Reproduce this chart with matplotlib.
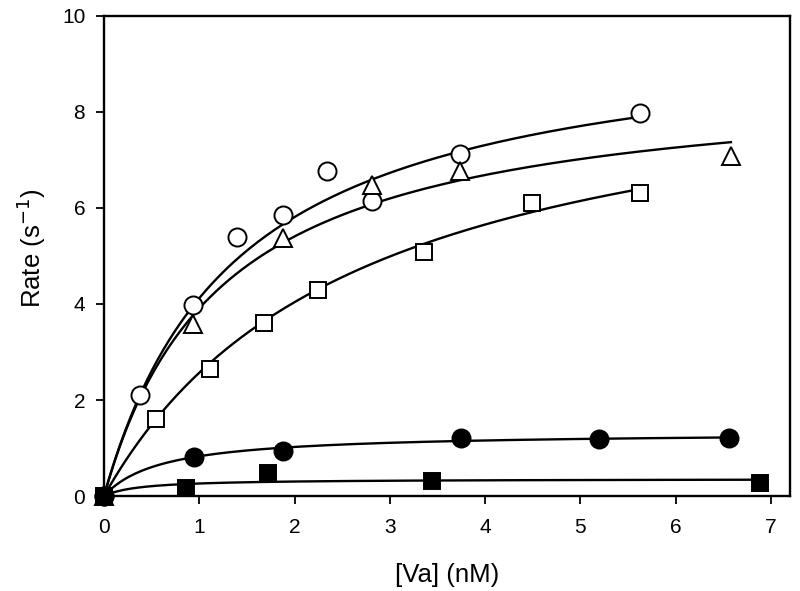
import numpy as np
import matplotlib.pyplot as plt

plt.rcParams['font.family'] = ['Liberation Sans', 'DejaVu Sans']

# open circles
x_oc = [0, 0.377, 0.933, 1.40, 1.88, 2.34, 2.81, 3.74, 5.63]
y_oc = [0, 2.10, 3.98, 5.40, 5.85, 6.77, 6.15, 7.12, 7.98]
# open triangles
x_tr = [0, 0.93, 1.88, 2.81, 3.74, 6.58]
y_tr = [0, 3.58, 5.38, 6.48, 6.78, 7.08]
# open squares
x_sq = [0, 0.545, 1.11, 1.68, 2.25, 3.36, 4.49, 5.63]
y_sq = [0, 1.60, 2.65, 3.60, 4.30, 5.08, 6.10, 6.32]
# filled circles
x_fc = [0, 0.94, 1.88, 3.75, 5.20, 6.56]
y_fc = [0, 0.81, 0.94, 1.21, 1.19, 1.21]
# filled squares
x_fs = [0, 0.86, 1.72, 3.44, 6.88]
y_fs = [0, 0.17, 0.48, 0.31, 0.27]

# hyperbolic fit parameters (Vmax, Kd)
fit_oc = (9.85, 1.39)
fit_tr = (8.76, 1.24)
fit_sq = (9.43, 2.67)
fit_fc = (1.333, 0.607)
fit_fs = (0.358, 0.37)


def hyperbola(x, vmax, kd):
    return vmax * x / (kd + x)


fig = plt.figure(figsize=(8, 5.91), dpi=100)
ax = fig.add_axes([0.13, 0.1607, 0.8575, 0.8123])

series = [
    (x_oc, y_oc, fit_oc, 'o', 'white', 13),
    (x_tr, y_tr, fit_tr, '^', 'white', 13),
    (x_sq, y_sq, fit_sq, 's', 'white', 11.5),
    (x_fc, y_fc, fit_fc, 'o', 'black', 13),
    (x_fs, y_fs, fit_fs, 's', 'black', 11.5),
]

for xs, ys, fit, m, fc, ms in series:
    xx = np.linspace(0, max(xs), 200)
    ax.plot(xx, hyperbola(xx, *fit), color='black', lw=1.7, zorder=2)
    ax.plot(xs, ys, linestyle='none', marker=m, markersize=ms,
            markerfacecolor=fc, markeredgecolor='black', markeredgewidth=1.4,
            zorder=3, clip_on=False)

ax.set_xlim(0, 7.2)
ax.set_ylim(0, 10)
ax.set_xticks(range(0, 8))
ax.set_yticks(range(0, 11, 2))
ax.tick_params(direction='out', length=5.5, width=1.3, labelsize=15)
ax.tick_params(axis='x', pad=10)
ax.tick_params(axis='y', pad=8)
for s in ax.spines.values():
    s.set_linewidth(1.7)

ax.set_xlabel('[Va] (nM)', fontsize=18.5, labelpad=19)
ax.set_ylabel('Rate (s$^{-1}$)', fontsize=18.5)
ax.yaxis.set_label_coords(-0.081, 0.517)

fig.savefig('out.png', dpi=100)
